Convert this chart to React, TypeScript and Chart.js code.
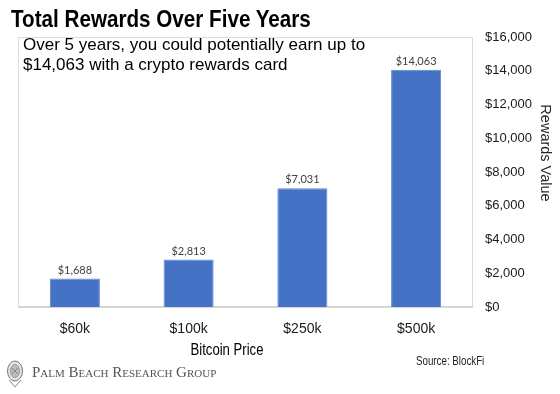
import React, { useEffect, useRef } from "react";
import { Chart, registerables } from "chart.js";

Chart.register(...registerables);

const categories = ["$60k", "$100k", "$250k", "$500k"];
const rewards = [1688, 2813, 7031, 14063];
const yMin = 0;
const yMax = 16000;
const yStep = 2000;

const titleText = "Total Rewards Over Five Years";
const noteLines = [
  "Over 5 years, you could potentially earn up to",
  "$14,063 with a crypto rewards card",
];
const xTitle = "Bitcoin Price";
const yTitle = "Rewards Value";
const sourceText = "Source: BlockFi";
const brandText = "Palm Beach Research Group";

const SANS = "'Liberation Sans', Arial, sans-serif";
const fmt = (v: number) => "$" + Number(v).toLocaleString("en-US");

const frameAndLabels = {
  id: "frameAndLabels",
  beforeDatasetsDraw(chart: any) {
    const { ctx, chartArea } = chart;
    ctx.save();
    ctx.strokeStyle = "#dcdcdc";
    ctx.lineWidth = 1;
    ctx.strokeRect(chartArea.left + 0.5, chartArea.top + 0.5, chartArea.right - chartArea.left - 1, chartArea.bottom - chartArea.top);
    ctx.strokeStyle = "#d6d6d6";
    ctx.lineWidth = 2;
    ctx.beginPath();
    ctx.moveTo(chartArea.left, chartArea.bottom);
    ctx.lineTo(chartArea.right, chartArea.bottom);
    ctx.stroke();
    ctx.restore();
  },
  afterDatasetsDraw(chart: any) {
    const { ctx } = chart;
    const meta = chart.getDatasetMeta(0);
    const data = chart.data.datasets[0].data as number[];
    ctx.save();
    ctx.font = "11px Lato, 'Open Sans', sans-serif";
    ctx.fillStyle = "#404040";
    ctx.textAlign = "center";
    ctx.textBaseline = "alphabetic";
    meta.data.forEach((el: any, i: number) => {
      ctx.fillText(fmt(data[i]), el.x, el.y - 5);
    });
    ctx.restore();
  },
  afterDraw(chart: any) {
    const { ctx } = chart;
    ctx.save();
    ctx.translate(545, 153);
    ctx.rotate(Math.PI / 2);
    ctx.font = "14.5px " + SANS;
    ctx.fillStyle = "#262626";
    ctx.textAlign = "center";
    ctx.textBaseline = "middle";
    ctx.fillText(yTitle, 0, 0);
    ctx.restore();
  },
};

export default function App() {
  const ref = useRef<HTMLCanvasElement | null>(null);

  useEffect(() => {
    if (!ref.current) return;
    const chart = new Chart(ref.current, {
      type: "bar",
      data: {
        labels: categories,
        datasets: [
          {
            data: rewards,
            backgroundColor: "#4472C4",
            borderColor: "#5A87D3",
            borderWidth: 1,
            barPercentage: 0.44,
            categoryPercentage: 1,
          },
        ],
      },
      options: {
        responsive: false,
        animation: false,
        layout: { padding: { left: 18, top: 37, right: 0, bottom: 0 } },
        plugins: {
          legend: { display: false },
          tooltip: { enabled: false },
          title: { display: false },
        },
        scales: {
          x: {
            grid: { display: false },
            border: { display: false },
            ticks: {
              padding: 6,
              color: "#1a1a1a",
              font: { family: SANS, size: 14 },
              maxRotation: 0,
            },
            afterFit: (s: any) => {
              s.height = 87;
            },
          },
          y: {
            position: "right",
            min: yMin,
            max: yMax,
            grid: { display: false },
            border: { display: false },
            ticks: {
              stepSize: yStep,
              padding: 4,
              color: "#1a1a1a",
              font: { family: SANS, size: 13 },
              callback: (v: any) => fmt(v),
            },
            afterFit: (s: any) => {
              s.width = 87;
            },
          },
        },
      },
      plugins: [frameAndLabels],
    });
    return () => chart.destroy();
  }, []);

  return (
    <div style={{ position: "absolute", left: 0, top: 0, width: 560, height: 394, background: "#fff", overflow: "hidden" }}>
      <canvas ref={ref} width={560} height={394} style={{ display: "block", position: "absolute", left: 0, top: 0 }} />
      <div
        style={{
          position: "absolute", left: 11, top: 7, fontFamily: SANS, fontWeight: "bold", fontSize: 24,
          lineHeight: "24px", whiteSpace: "nowrap", color: "#000", transform: "scaleX(0.86)", transformOrigin: "left top",
        }}
      >
        {titleText}
      </div>
      <div
        style={{
          position: "absolute", left: 23, top: 35, fontFamily: SANS, fontSize: 17, lineHeight: "19.5px",
          whiteSpace: "nowrap", color: "#000",
        }}
      >
        {noteLines.map((l, i) => (
          <div key={i}>{l}</div>
        ))}
      </div>
      <div
        style={{
          position: "absolute", left: 127, width: 200, top: 341.5, textAlign: "center", fontFamily: SANS, fontSize: 16,
          lineHeight: "16px", whiteSpace: "nowrap", color: "#000", transform: "scaleX(0.82)", transformOrigin: "center top",
        }}
      >
        {xTitle}
      </div>
      <div
        style={{
          position: "absolute", left: 416, top: 355, fontFamily: SANS, fontSize: 12.5, lineHeight: "12.5px",
          whiteSpace: "nowrap", color: "#222", transform: "scaleX(0.78)", transformOrigin: "left top",
        }}
      >
        {sourceText}
      </div>
      <svg style={{ position: "absolute", left: 6, top: 358 }} width={18} height={30} viewBox="0 0 18 30">
        <ellipse cx={9} cy={13} rx={7.5} ry={10} fill="#e4e4e4" stroke="#777" strokeWidth={1} />
        <ellipse cx={9} cy={13} rx={4.5} ry={6.5} fill="#bdbdbd" stroke="#888" strokeWidth={0.8} />
        <path d="M3 22 L9 29 L15 22" fill="none" stroke="#888" strokeWidth={1} />
        <path d="M6 10 L12 16 M12 10 L6 16" stroke="#777" strokeWidth={0.8} />
      </svg>
      <div
        style={{
          position: "absolute", left: 32, top: 364.5, fontFamily: "'Liberation Serif', 'Times New Roman', serif",
          fontSize: 15, lineHeight: "15px", fontVariant: "small-caps", whiteSpace: "nowrap", color: "#555",
        }}
      >
        {brandText}
      </div>
    </div>
  );
}
